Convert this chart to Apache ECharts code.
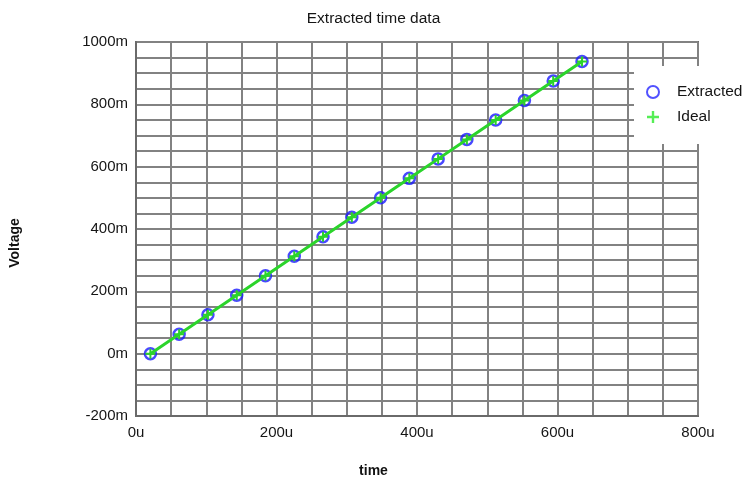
<!DOCTYPE html>
<html>
<head>
<meta charset="utf-8">
<script src="https://cdn.jsdelivr.net/npm/echarts@6/dist/echarts.min.js"></script>
<style>html,body{margin:0;padding:0;background:#fff}#c{width:747px;height:484px}</style>
</head>
<body>
<div id="c"></div>
<script>
// time in microseconds (u), voltage in millivolts (m)
const timeUs = [20.5, 61.4, 102.4, 143.4, 184.3, 225.3, 266.2, 307.2, 348.2, 389.1, 430.1, 471.0, 512.0, 552.9, 593.9, 634.9];
const extractedMv = [0, 62.5, 125, 187.5, 250, 312.5, 375, 437.5, 500, 562.5, 625, 687.5, 750, 812.5, 875, 937.5];
const idealMv = [0, 62.5, 125, 187.5, 250, 312.5, 375, 437.5, 500, 562.5, 625, 687.5, 750, 812.5, 875, 937.5];
const xTicks = [0, 200, 400, 600, 800];
const yTicks = [-200, 0, 200, 400, 600, 800, 1000];
const titleText = 'Extracted time data';
const xName = 'time';
const yName = 'Voltage';

const FONT = '"Liberation Sans", Arial, sans-serif';
const gridColor = '#828282';
const chart = echarts.init(document.getElementById('c'));
const plus = 'path://M4,0h2v4h4v2h-4v4h-2v-4h-4v-2h4z';
chart.setOption({
  animation: false,
  backgroundColor: '#fff',
  title: {
    text: titleText, left: 'center', top: 6,
    textStyle: {fontFamily: FONT, fontSize: 15.5, fontWeight: 'normal', color: '#151515'}
  },
  grid: {left: 136, right: 49, top: 42, bottom: 68, show: true, borderColor: '#6a6a6a', borderWidth: 2},
  legend: {
    orient: 'vertical', left: 634, top: 66,
    backgroundColor: '#fff',
    padding: [18, 10, 19, 12],
    itemWidth: 12, itemHeight: 12, itemGap: 9,
    textStyle: {fontFamily: FONT, fontSize: 15.5, color: '#151515', padding: [0, 0, 0, 13]},
    data: [
      {name: 'Extracted', icon: 'circle', itemStyle: {color: '#fff', borderColor: '#2626ff', borderWidth: 2}},
      {name: 'Ideal', icon: plus, itemStyle: {color: '#55ee55', borderWidth: 0}}
    ]
  },
  xAxis: {
    type: 'value', min: xTicks[0], max: xTicks[xTicks.length - 1], interval: 200,
    axisLine: {show: true, onZero: false, lineStyle: {color: '#6a6a6a', width: 2}},
    axisTick: {show: false},
    axisLabel: {fontFamily: FONT, fontSize: 15, color: '#151515', margin: 9, formatter: v => v + 'u'},
    splitLine: {show: true, lineStyle: {color: gridColor, width: 2}},
    minorTick: {show: false, splitNumber: 4},
    minorSplitLine: {show: true, lineStyle: {color: gridColor, width: 2}}
  },
  yAxis: {
    type: 'value', min: yTicks[0], max: yTicks[yTicks.length - 1], interval: 200,
    axisLine: {show: true, onZero: false, lineStyle: {color: '#6a6a6a', width: 2}},
    axisTick: {show: false},
    axisLabel: {fontFamily: FONT, fontSize: 15, color: '#151515', margin: 8, formatter: v => v + 'm'},
    splitLine: {show: true, lineStyle: {color: gridColor, width: 2}},
    minorTick: {show: false, splitNumber: 4},
    minorSplitLine: {show: true, lineStyle: {color: gridColor, width: 2}}
  },
  graphic: [
    {type: 'text', left: 'center', top: 464, style: {text: xName, font: 'bold 14px ' + FONT, fill: '#111'}},
    {type: 'text', x: 15, y: 243, rotation: Math.PI / 2, style: {text: yName, font: 'bold 14px ' + FONT, fill: '#111', textAlign: 'center', textVerticalAlign: 'middle'}}
  ],
  series: [
    {
      name: 'Extracted', type: 'scatter', z: 2,
      symbol: 'circle', symbolSize: 11,
      itemStyle: {color: 'rgba(0,0,0,0)', borderColor: '#1a1aff', borderWidth: 2.5},
      data: timeUs.map((t, i) => [t, extractedMv[i]])
    },
    {
      name: 'Ideal', type: 'line', z: 3,
      symbol: plus, symbolSize: 10, showAllSymbol: true,
      lineStyle: {color: '#2bd42b', width: 3},
      itemStyle: {color: '#2bd42b'},
      data: timeUs.map((t, i) => [t, idealMv[i]])
    }
  ]
});
</script>
</body>
</html>
